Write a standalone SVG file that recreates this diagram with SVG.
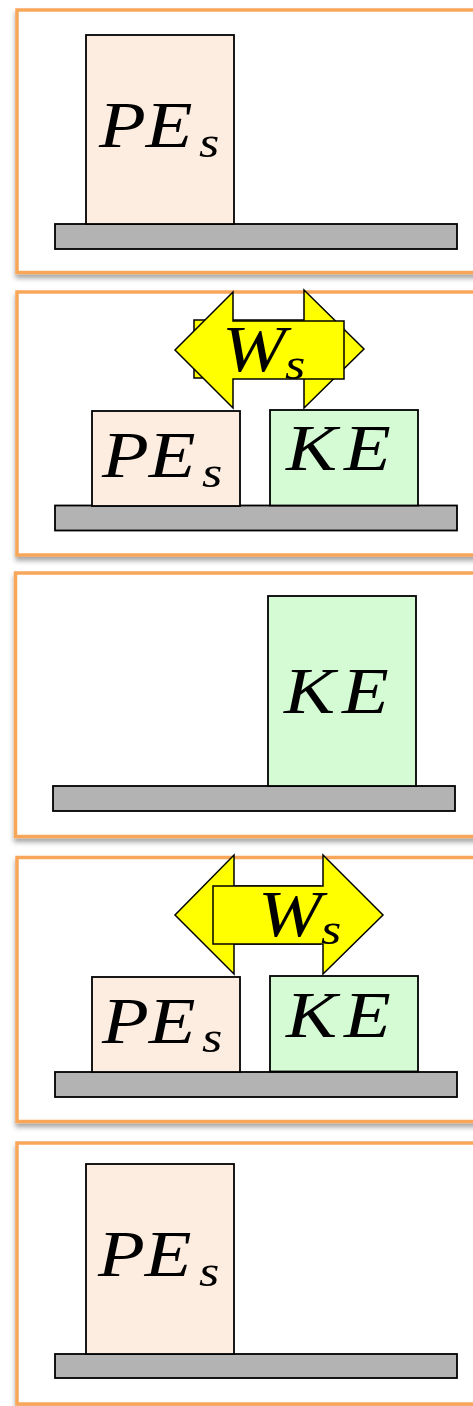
<svg xmlns="http://www.w3.org/2000/svg" width="473" height="1406" viewBox="0 0 473 1406">
<defs>
<filter id="sh" x="-10%" y="-10%" width="130%" height="130%">
<feGaussianBlur in="SourceAlpha" stdDeviation="2.5"/>
<feOffset dx="0" dy="4" result="b"/>
<feFlood flood-color="#000" flood-opacity="0.35"/>
<feComposite in2="b" operator="in"/>
<feMerge><feMergeNode/><feMergeNode in="SourceGraphic"/></feMerge>
</filter>
<style>
.panel{fill:#fff;stroke:#F8A75A;stroke-width:3.5;filter:url(#sh)}
.pe{fill:#FDEDE1;stroke:#000;stroke-width:1.8}
.ke{fill:#D5FBD5;stroke:#000;stroke-width:1.8}
.gr{fill:#B3B3B3;stroke:#000;stroke-width:1.8}
.ar{fill:#FFFF00;stroke:#000;stroke-width:1.5;stroke-linejoin:miter}
.m{font-family:"Liberation Serif","Times New Roman",serif;font-style:italic;font-size:66px;fill:#000}
.k{letter-spacing:6px}
.sub{font-family:"Liberation Serif","Times New Roman",serif;font-style:italic;font-size:45px;fill:#000}
</style>
</defs>
<rect width="473" height="1406" fill="#fff"/>

<g id="panel1">
<rect class="panel" x="17" y="10" width="490" height="262.5"/>
<rect class="gr" x="55" y="224" width="402" height="25"/>
<rect class="pe" x="86" y="35" width="148" height="189"/>
<text class="m" transform="translate(99,147) scale(1.16,1)">PE</text>
<text class="sub" transform="translate(199,157) scale(1.16,1)">s</text>
</g>

<g id="panel2">
<rect class="panel" x="17" y="292" width="490" height="263"/>
<rect class="gr" x="55" y="505.5" width="402" height="25"/>
<rect class="pe" x="92" y="411" width="148" height="95"/>
<rect class="ke" x="270" y="410" width="148" height="95.5"/>
<text class="m" transform="translate(102,477) scale(1.16,1)">PE</text>
<text class="sub" transform="translate(202,487) scale(1.16,1)">s</text>
<text class="m k" transform="translate(286,470) scale(1.16,1)">KE</text>
<path class="ar" d="M194,320 H304 V290 L364,349 L304,408 V378 H194 Z"/>
<path class="ar" d="M344,321 H233 V292 L175,350 L233,408 V379 H344 Z"/>
<text class="m" transform="translate(222,371) scale(1.16,1)">W</text>
<text class="sub" transform="translate(285,379) scale(1.16,1)">s</text>
</g>

<g id="panel3">
<rect class="panel" x="15.5" y="573" width="490" height="263.5"/>
<rect class="gr" x="53" y="786" width="402" height="25"/>
<rect class="ke" x="268" y="596" width="148" height="190"/>
<text class="m k" transform="translate(284,713) scale(1.16,1)">KE</text>
</g>

<g id="panel4">
<rect class="panel" x="17" y="857.5" width="490" height="264"/>
<rect class="gr" x="55" y="1072" width="402" height="25"/>
<rect class="pe" x="92" y="977" width="148" height="95"/>
<rect class="ke" x="270" y="976" width="148" height="95.5"/>
<text class="m" transform="translate(102,1043) scale(1.16,1)">PE</text>
<text class="sub" transform="translate(202,1052) scale(1.16,1)">s</text>
<text class="m k" transform="translate(286,1037) scale(1.16,1)">KE</text>
<path class="ar" d="M320,886 H234 V855 L175,915 L234,974 V944 H320 Z"/>
<path class="ar" d="M213,886 H323 V855 L383,915 L323,974 V944 H213 Z"/>
<text class="m" transform="translate(258,936) scale(1.16,1)">W</text>
<text class="sub" transform="translate(321,944) scale(1.16,1)">s</text>
</g>

<g id="panel5">
<rect class="panel" x="17" y="1143" width="490" height="261"/>
<rect class="gr" x="55" y="1354" width="402" height="24"/>
<rect class="pe" x="86" y="1164" width="148" height="190"/>
<text class="m" transform="translate(98,1276) scale(1.16,1)">PE</text>
<text class="sub" transform="translate(199,1286) scale(1.16,1)">s</text>
</g>
</svg>
